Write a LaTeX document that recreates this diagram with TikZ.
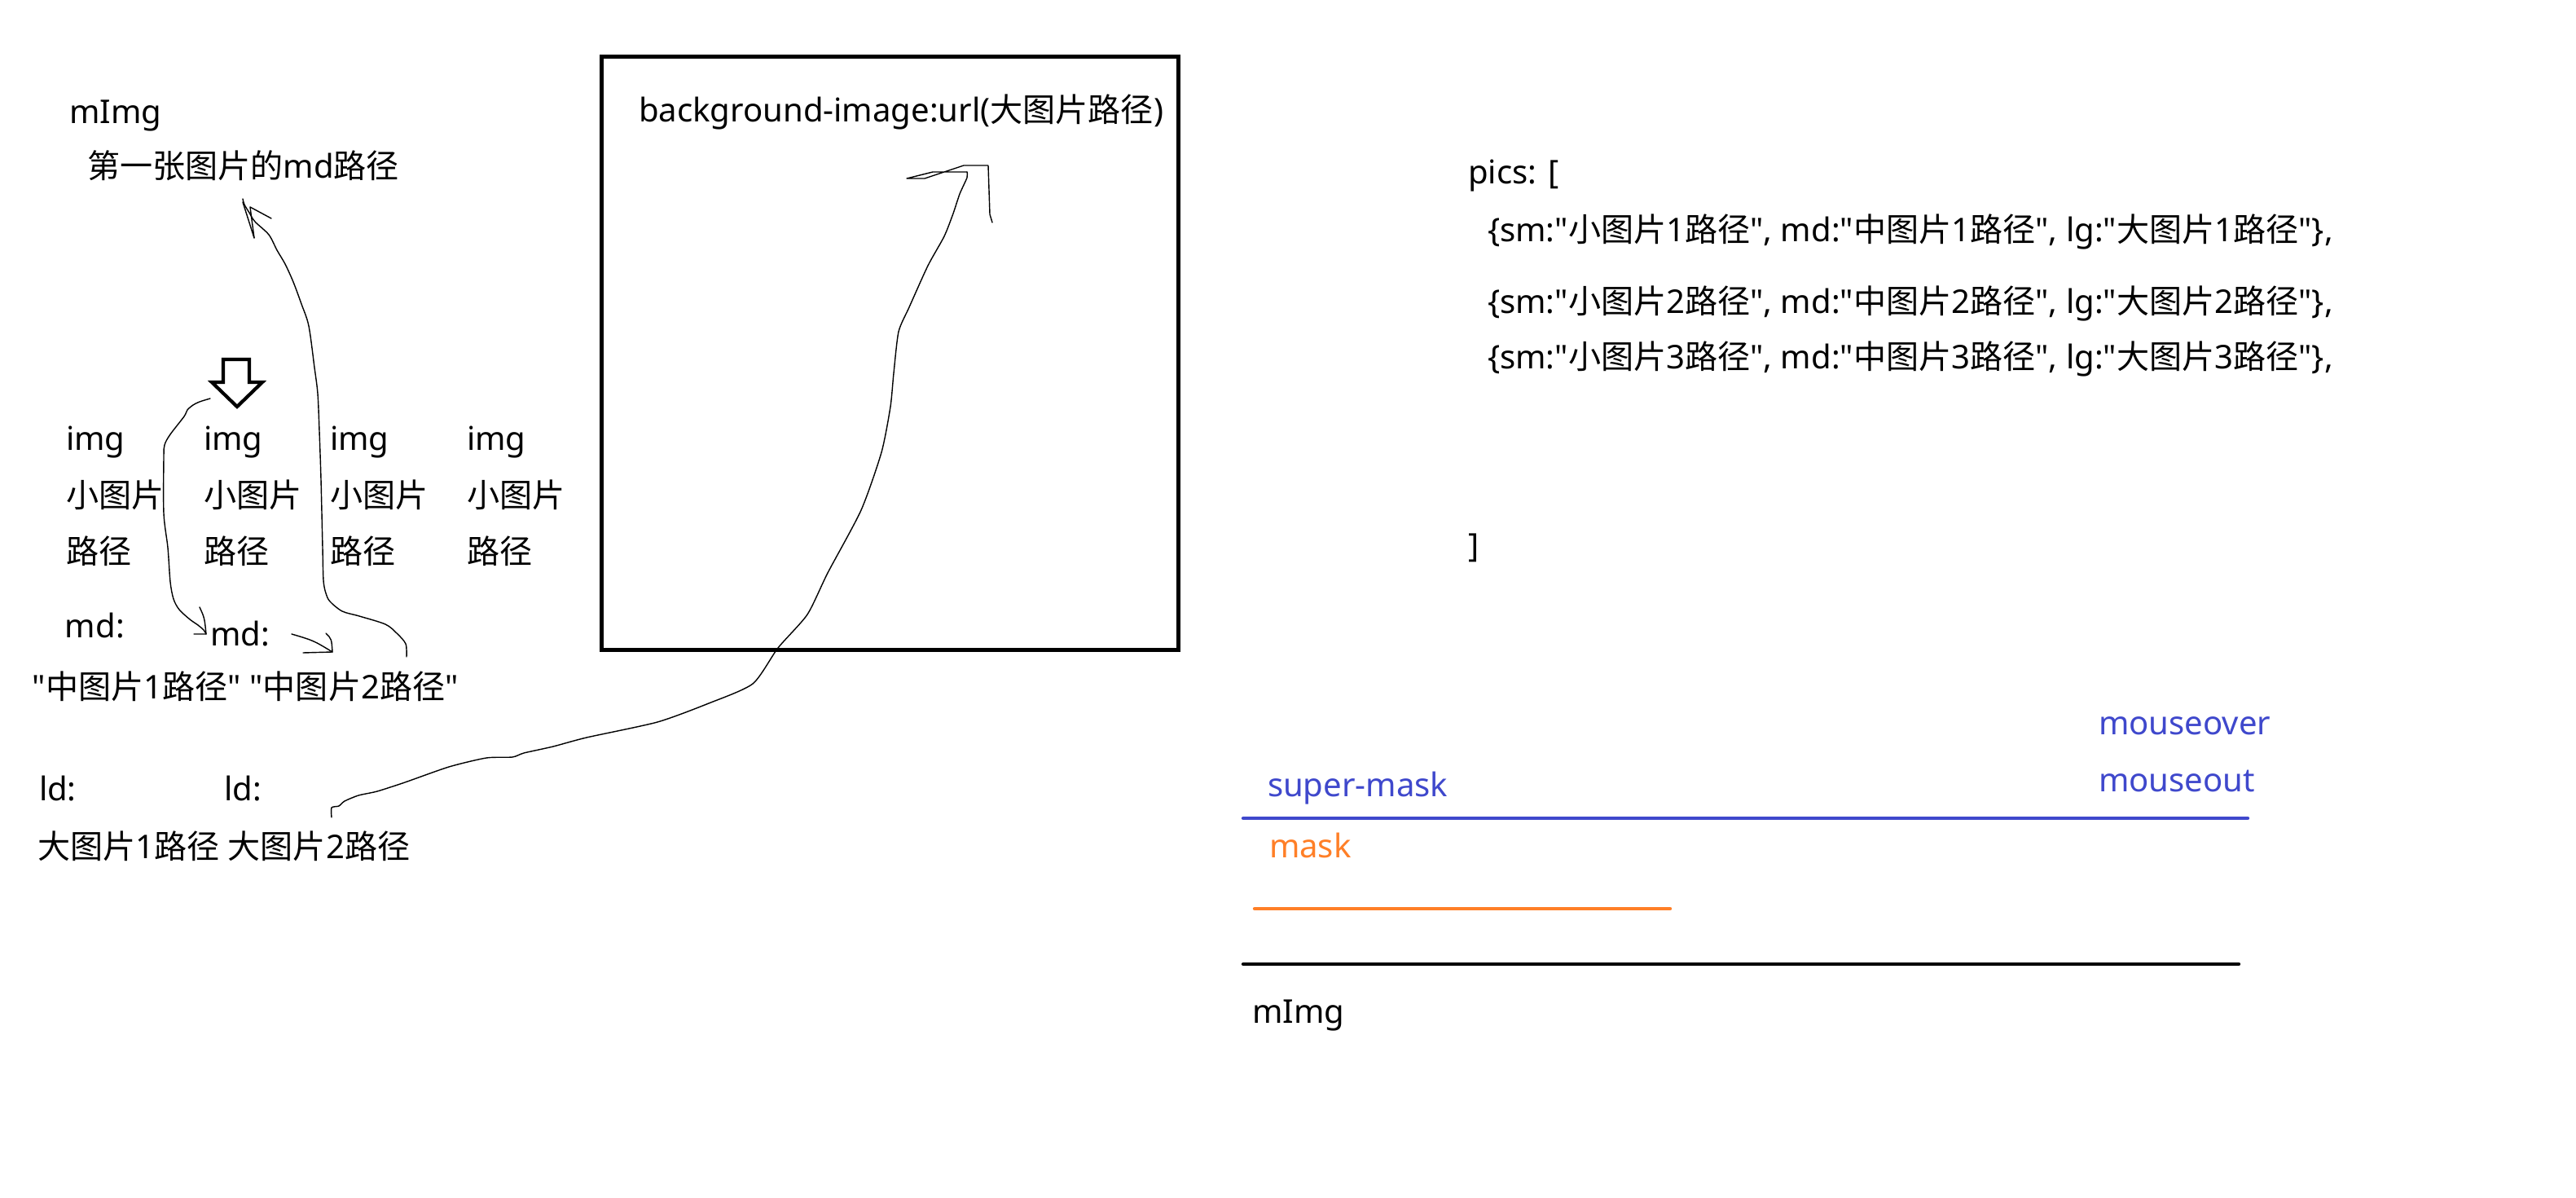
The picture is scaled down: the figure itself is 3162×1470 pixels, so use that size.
\documentclass[tikz,border=0pt]{standalone}
\usepackage{fontspec}
\setmainfont{Noto Sans}[Ligatures=TeXOff]
\newfontfamily\cjkfam{Noto Sans CJK SC}
\newcommand\zh[1]{{\cjkfam #1}}
\definecolor{pindigo}{HTML}{3F48CC}
\definecolor{porange}{HTML}{FF7F27}
\begin{document}
\begin{tikzpicture}[x=0.01cm,y=-0.01cm,
  txt/.style={inner sep=0pt, outer sep=0pt, anchor=base west, font=\fontsize{11.4}{13.7}\selectfont},
  hand/.style={line width=0.4pt, line join=round, line cap=round},
  bar/.style={line width=1.25pt, line cap=round},
  blue/.style={text=pindigo},
  orng/.style={text=porange}]
\fill[white] (0,0) rectangle (3162,1470);
\useasboundingbox (0,0) rectangle (3162,1470);

% left column texts
\node[txt] (mimgA) at (85,152) {mImg};
\node[txt] (firstmd) at (107,219) {\zh{第一张图片的}md\zh{路径}};
\node[txt] (img1) at (81,553) {img};
\node[txt] (img2) at (250,553) {img};
\node[txt] (img3) at (405,553) {img};
\node[txt] (img4) at (573,553) {img};
\node[txt] (sm1) at (81,623) {\zh{小图片}};
\node[txt] (sm2) at (250,623) {\zh{小图片}};
\node[txt] (sm3) at (405,623) {\zh{小图片}};
\node[txt] (sm4) at (573,623) {\zh{小图片}};
\node[txt] (lj1) at (81,692) {\zh{路径}};
\node[txt] (lj2) at (250,692) {\zh{路径}};
\node[txt] (lj3) at (405,692) {\zh{路径}};
\node[txt] (lj4) at (573,692) {\zh{路径}};
\node[txt] (md1) at (80,783) {md:};
\node[txt] (md2) at (258,792) {md:};
\node[txt] (mdval) at (40,857) {"\zh{中图片}1\zh{路径}" "\zh{中图片}2\zh{路径}"};
\node[txt] (ld1) at (48,982) {ld:};
\node[txt] (ld2) at (275,982) {ld:};
\node[txt] (ldval) at (46,1053) {\zh{大图片}1\zh{路径} \zh{大图片}2\zh{路径}};

% hollow down arrow
\draw[line width=1.2pt, line join=miter] (274,441) -- (306,441) -- (306,469) -- (322,469) -- (291,499) -- (260,469) -- (274,469) -- cycle;

% big box
\node[draw, line width=1.42pt, inner sep=0pt, minimum width=7.08cm, minimum height=7.28cm, anchor=north west] (box) at (736,67) {};
\node[txt] (bg) at (784,150) {background-image:url(\zh{大图片路径})};

% pics array
\node[txt] (pics) at (1802,226) {pics: [};
\node[txt] (p1) at (1826,297) {\{sm:"\zh{小图片}1\zh{路径}", md:"\zh{中图片}1\zh{路径}", lg:"\zh{大图片}1\zh{路径}"\},};
\node[txt] (p2) at (1826,385) {\{sm:"\zh{小图片}2\zh{路径}", md:"\zh{中图片}2\zh{路径}", lg:"\zh{大图片}2\zh{路径}"\},};
\node[txt] (p3) at (1826,453) {\{sm:"\zh{小图片}3\zh{路径}", md:"\zh{中图片}3\zh{路径}", lg:"\zh{大图片}3\zh{路径}"\},};
\node[txt] (pend) at (1802,684) {]};

% layers
\node[txt, blue] (mover) at (2576,902) {mouseover};
\node[txt, blue] (mout) at (2576,971) {mouseout};
\node[txt, blue] (smask) at (1556,977) {super-mask};
\node[txt, orng] (mask) at (1558,1052) {mask};
\node[txt] (mimgB) at (1537,1255) {mImg};
\draw[bar, pindigo] (1526,1004) -- (2759,1004);
\draw[bar, porange] (1540,1115) -- (2050,1115);
\draw[bar, black] (1526,1183) -- (2748,1183);

% connector endpoints
\coordinate (aS) at (258,489);
\coordinate (aE) at (253,778);
\coordinate (bS) at (499,806);
\coordinate (bE) at (298,244);
\coordinate (cS) at (407,1003);
\coordinate (cE) at (1187,211);
\coordinate (dS) at (358,778);
\coordinate (dE) at (408,800);

% curve A: arrow -> md2
\draw[hand] plot[smooth, tension=0.5] coordinates {(aS) (245,493) (237,497) (230,503) (226,511) (209,533) (202,546) (201,562) (201,630) (206,672) (209,714) (213,735) (220,748) (233,760) (243,767) (250,773) (aE)};
\draw[hand] (245,745) .. controls (251,758) .. (aE) -- (238,778);

% curve B: md value 2 -> first md path
\draw[hand] plot[smooth, tension=0.5] coordinates {(bS) (498,790) (487,777) (473,766) (441,756) (420,750) (405,738) (400,728) (397,712) (396,672) (394,588) (392,529) (390,483) (386,451) (379,400) (370,373) (360,346) (350,324) (340,307) (330,288) (313,272) (306,261) (300,251) (bE)};
\draw[hand] (312,292) -- (298,248);
\draw[hand] (312,292) -- (307,254) -- (333,268);

% small arrow D
\draw[hand] (dS) .. controls (385,786) .. (dE);
\draw[hand] (400,777) .. controls (407,784) .. (dE) -- (372,801);

% curve C: large path 2 -> background image
\draw[hand] plot[smooth, tension=0.4] coordinates {(cS) (407,991) (416,989) (423,983) (440,976) (463,971) (497,960) (551,941) (597,930) (629,929) (643,924) (679,916) (720,905) (807,886) (870,863) (924,839) (955,795) (991,754) (1016,703) (1057,626) (1082,555) (1093,499) (1097,458) (1103,407) (1116,377) (1139,326) (1159,290) (1170,262) (1178,238) (1187,218) (cE)};
\draw[hand] (cE) -- (1145,211) -- (1113,219) -- (1135,219) -- (1162,210) -- (1183,203) -- (1213,203) -- (1215,263) -- (1218,273);
\end{tikzpicture}
\end{document}
